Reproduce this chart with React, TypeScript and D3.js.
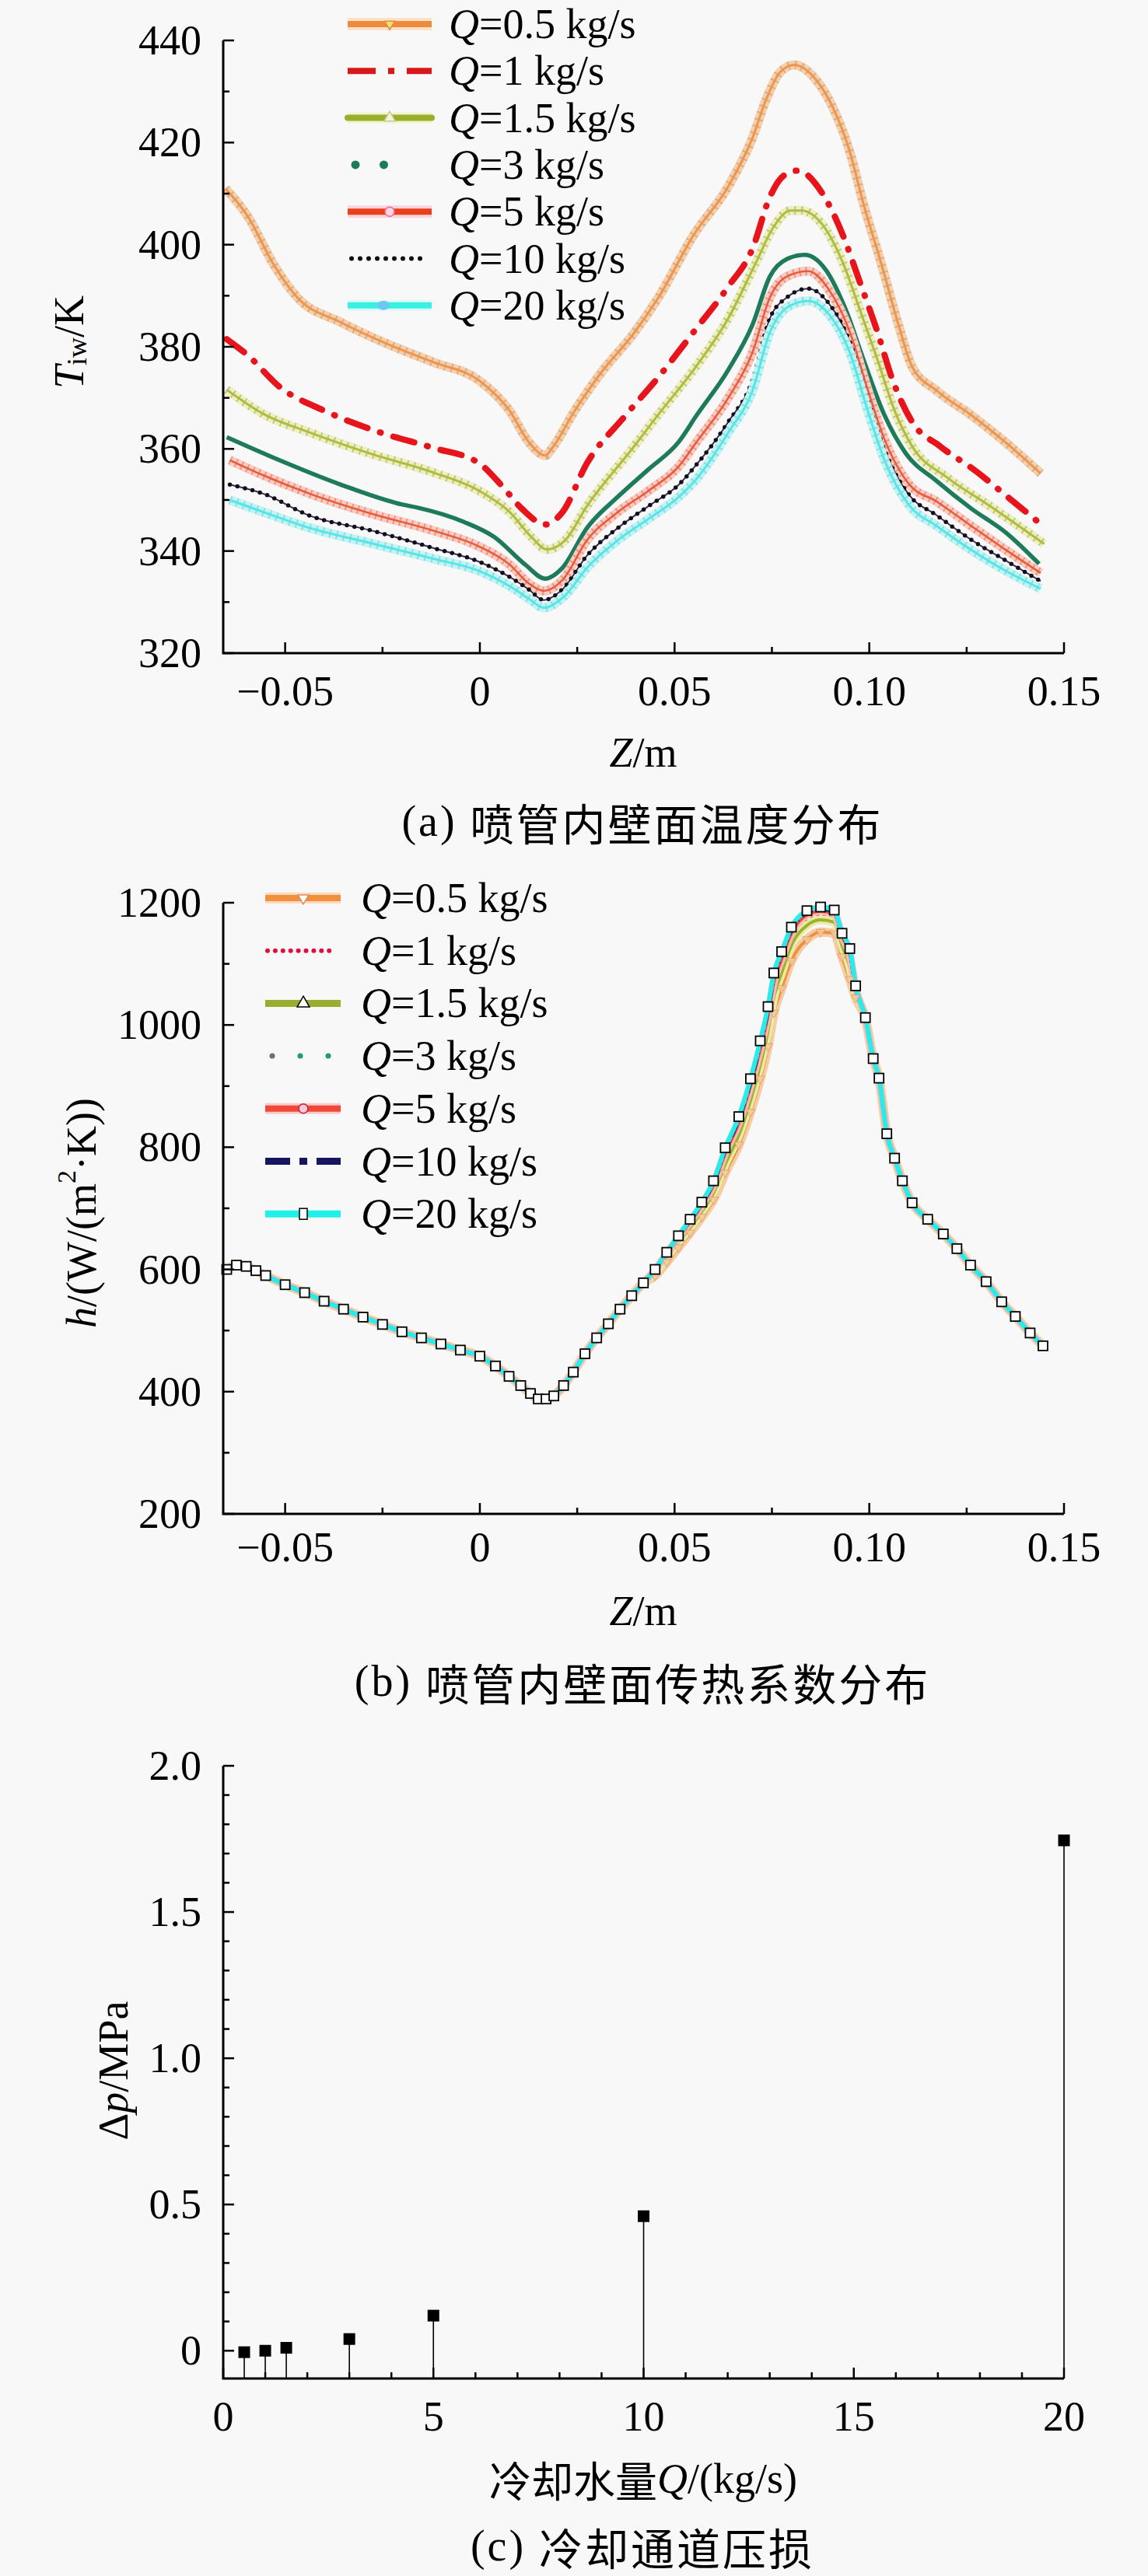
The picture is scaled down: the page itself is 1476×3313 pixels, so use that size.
import React from 'react';
import * as d3 from 'd3';

type Pt = [number, number];

const SERIF = '"Liberation Serif", "Times New Roman", serif';
const CJK = '"Noto Sans CJK SC", "Liberation Serif", serif';

// ---------- Panel (a): inner wall temperature T_iw (K) vs Z (m) ----------
const Q_LABELS = ['0.5', '1', '1.5', '3', '5', '10', '20'];

const TIW_Q05: Pt[] = [
  [-0.0653, 411.0], [-0.0594, 405.3], [-0.0531, 396.3], [-0.0468, 389.6], [-0.0357, 384.8],
  [-0.0239, 380.6], [-0.012, 377.0], [-0.0002, 373.4], [0.0077, 367.4], [0.0125, 361.4],
  [0.0168, 358.7], [0.0186, 360.2], [0.0243, 367.4], [0.0314, 375.2], [0.0393, 382.4],
  [0.0459, 389.7], [0.0549, 401.9], [0.0638, 411.4], [0.07, 420.9], [0.0735, 428.4],
  [0.0771, 433.8], [0.0807, 435.2], [0.0861, 432.5], [0.0905, 427.1], [0.095, 418.2],
  [0.0985, 408.0], [0.103, 396.5], [0.1075, 384.3], [0.111, 376.1], [0.1173, 371.4],
  [0.1262, 366.6], [0.1351, 361.2], [0.144, 355.2],
];
const TIW_Q1: Pt[] = [
  [-0.065, 381.5], [-0.0594, 378.2], [-0.0515, 372.2], [-0.0397, 367.4], [-0.0255, 363.2],
  [-0.012, 360.2], [-0.0002, 357.2], [0.0054, 353.0], [0.0109, 348.2], [0.0168, 345.2],
  [0.0212, 347.6], [0.0275, 357.2], [0.037, 366.2], [0.0459, 374.1], [0.0549, 382.9],
  [0.0638, 391.8], [0.07, 399.2], [0.0745, 409.4], [0.078, 413.5], [0.0816, 414.5],
  [0.0879, 410.1], [0.0932, 401.9], [0.0977, 392.4], [0.1021, 382.9], [0.1057, 374.1],
  [0.111, 365.3], [0.1182, 360.5], [0.1271, 355.8], [0.136, 350.3], [0.1448, 344.8],
];
const TIW_Q15: Pt[] = [
  [-0.065, 371.6], [-0.0555, 366.8], [-0.0436, 363.2], [-0.0278, 359.0], [-0.012, 355.4],
  [-0.0002, 351.8], [0.0077, 347.6], [0.0133, 342.7], [0.0172, 340.3], [0.0219, 342.1],
  [0.0275, 348.8], [0.0393, 360.2], [0.0459, 366.8], [0.0549, 375.5], [0.0638, 385.6],
  [0.0709, 396.5], [0.0753, 403.3], [0.0798, 406.7], [0.0825, 406.7], [0.0879, 404.0],
  [0.0932, 396.5], [0.0977, 387.0], [0.1021, 377.5], [0.1066, 367.3], [0.111, 360.5],
  [0.12, 354.4], [0.1306, 349.0], [0.1449, 341.4],
];
const TIW_Q3: Pt[] = [
  [-0.065, 362.3], [-0.0515, 357.8], [-0.0357, 353.0], [-0.0199, 349.1], [-0.016, 348.5],
  [-0.0041, 345.7], [0.0038, 342.7], [0.0117, 337.3], [0.0168, 334.6], [0.0212, 336.7],
  [0.0275, 344.5], [0.0354, 350.6], [0.0433, 356.0], [0.0511, 361.4], [0.0555, 366.4],
  [0.0638, 375.5], [0.07, 384.3], [0.0745, 393.8], [0.0789, 397.2], [0.0834, 398.0],
  [0.0888, 395.1], [0.0941, 387.0], [0.0985, 377.5], [0.1039, 366.6], [0.1093, 359.2],
  [0.1173, 353.7], [0.1262, 348.3], [0.1351, 343.6], [0.1436, 337.5],
];
const TIW_Q5: Pt[] = [
  [-0.0642, 357.8], [-0.0555, 354.8], [-0.0436, 351.2], [-0.0278, 347.3], [-0.012, 344.0],
  [-0.0002, 340.9], [0.0077, 337.3], [0.0125, 333.7], [0.0164, 332.2], [0.0212, 334.3],
  [0.0275, 342.1], [0.0354, 347.6], [0.0433, 351.8], [0.0511, 356.6], [0.0555, 361.2],
  [0.0638, 370.0], [0.07, 378.9], [0.0745, 389.7], [0.0789, 393.8], [0.0843, 394.8],
  [0.0897, 391.1], [0.095, 382.9], [0.0994, 372.1], [0.1039, 361.9], [0.1102, 353.1],
  [0.1173, 349.7], [0.1262, 344.9], [0.1351, 340.2], [0.144, 335.7],
];
const TIW_Q10: Pt[] = [
  [-0.0642, 353.0], [-0.0555, 351.2], [-0.0436, 346.9], [-0.0278, 344.0], [-0.012, 340.6],
  [-0.0002, 337.9], [0.0077, 334.9], [0.0125, 332.5], [0.0164, 330.4], [0.0212, 332.5],
  [0.0275, 339.1], [0.0354, 344.5], [0.0433, 348.8], [0.0511, 353.0], [0.0555, 356.8],
  [0.0638, 365.3], [0.07, 373.4], [0.0745, 385.6], [0.0789, 389.7], [0.0843, 391.4],
  [0.0897, 388.4], [0.095, 380.9], [0.0994, 370.0], [0.1039, 359.8], [0.1102, 351.0],
  [0.1173, 347.0], [0.1262, 342.2], [0.1351, 338.1], [0.144, 334.1],
];
const TIW_Q20: Pt[] = [
  [-0.0642, 350.0], [-0.0555, 347.6], [-0.0436, 344.5], [-0.0278, 341.5], [-0.012, 338.5],
  [-0.0002, 336.1], [0.0077, 333.1], [0.0125, 330.7], [0.0164, 328.9], [0.0219, 331.3],
  [0.0275, 336.7], [0.0354, 342.1], [0.0433, 346.3], [0.0511, 350.6], [0.0555, 354.0],
  [0.0638, 363.2], [0.07, 371.4], [0.0745, 382.9], [0.0789, 387.7], [0.0843, 389.0],
  [0.0897, 386.3], [0.095, 378.9], [0.0994, 368.0], [0.1039, 357.8], [0.1102, 349.0],
  [0.1173, 344.9], [0.1262, 340.2], [0.1351, 336.1], [0.144, 332.6],
];

const A_X_TICKS = [-0.05, 0, 0.05, 0.1, 0.15];
const A_X_LABELS = ['\u22120.05', '0', '0.05', '0.10', '0.15'];
const A_X_MINOR = [-0.025, 0.025, 0.075, 0.125];
const A_Y_TICKS = [320, 340, 360, 380, 400, 420, 440];
const A_Y_MINOR = [330, 350, 370, 390, 410, 430];

// ---------- Panel (b): heat transfer coefficient h vs Z ----------
const Z_B = [
  -0.065, -0.0625, -0.06, -0.0575, -0.055, -0.05, -0.045, -0.04, -0.035, -0.03,
  -0.025, -0.02, -0.015, -0.01, -0.005, 0, 0.004, 0.0075, 0.0105, 0.013,
  0.015, 0.017, 0.019, 0.0215, 0.024, 0.027, 0.03, 0.033, 0.036, 0.039,
  0.042, 0.045, 0.048, 0.051, 0.054, 0.057, 0.06, 0.063, 0.0665, 0.0695,
  0.072, 0.074, 0.0755, 0.0775, 0.08, 0.084, 0.0875, 0.091, 0.093, 0.095,
  0.0965, 0.099, 0.101, 0.1025, 0.1045, 0.1065, 0.1085, 0.111, 0.115, 0.119,
  0.1225, 0.126, 0.13, 0.134, 0.1375, 0.1413, 0.1446,
];
const H_Q05 = [
  600, 607, 605, 598, 590, 575, 562, 548, 535, 522,
  510, 498, 488, 478, 468, 458, 442, 425, 410, 397,
  388, 388, 393, 410, 432, 462, 488, 511, 535, 557,
  578, 590, 612, 636, 660, 686, 714, 758, 804, 858,
  912, 965, 1020, 1060, 1105, 1140, 1152, 1150, 1112, 1075,
  1045, 1010, 945, 913, 822, 782, 745, 709, 682, 658,
  634, 607, 580, 547, 523, 496, 475,
];
const H_Q1 = [
  600, 607, 605, 598, 590, 575, 562, 548, 535, 522,
  510, 498, 488, 478, 468, 458, 442, 425, 410, 397,
  388, 388, 393, 410, 432, 462, 488, 511, 535, 557,
  578, 597, 622, 648, 672, 699, 730, 778, 826, 884,
  944, 1000, 1054, 1094, 1138, 1170, 1178, 1174, 1136, 1104,
  1056, 1012, 945, 913, 822, 782, 745, 709, 682, 658,
  634, 607, 580, 547, 523, 496, 475,
];
const H_Q15 = [
  600, 607, 605, 598, 590, 575, 562, 548, 535, 522,
  510, 498, 488, 478, 468, 458, 442, 425, 410, 397,
  388, 388, 393, 410, 432, 462, 488, 511, 535, 557,
  578, 595, 620, 645, 668, 695, 725, 772, 820, 876,
  934, 990, 1045, 1085, 1130, 1163, 1172, 1168, 1130, 1095,
  1052, 1012, 945, 913, 822, 782, 745, 709, 682, 658,
  634, 607, 580, 547, 523, 496, 475,
];
const H_Q3 = [
  600, 607, 605, 598, 590, 575, 562, 548, 535, 522,
  510, 498, 488, 478, 468, 458, 442, 425, 410, 397,
  388, 388, 393, 410, 432, 462, 488, 511, 535, 557,
  578, 598, 624, 650, 675, 702, 734, 784, 833, 892,
  952, 1008, 1062, 1100, 1144, 1175, 1182, 1178, 1140, 1110,
  1058, 1012, 945, 913, 822, 782, 745, 709, 682, 658,
  634, 607, 580, 547, 523, 496, 475,
];
const H_Q5 = [
  600, 607, 605, 598, 590, 575, 562, 548, 535, 522,
  510, 498, 488, 478, 468, 458, 442, 425, 410, 397,
  388, 388, 393, 410, 432, 462, 488, 511, 535, 557,
  578, 599, 626, 652, 678, 705, 738, 790, 840, 900,
  960, 1016, 1070, 1108, 1150, 1180, 1186, 1182, 1145, 1115,
  1060, 1012, 945, 913, 822, 782, 745, 709, 682, 658,
  634, 607, 580, 547, 523, 496, 475,
];
const H_Q10 = [
  600, 607, 605, 598, 590, 575, 562, 548, 535, 522,
  510, 498, 488, 478, 468, 458, 442, 425, 410, 397,
  388, 388, 393, 410, 432, 462, 488, 511, 535, 557,
  578, 600, 627, 654, 680, 708, 742, 795, 846, 906,
  968, 1024, 1078, 1115, 1156, 1184, 1190, 1185, 1148, 1120,
  1062, 1012, 945, 913, 822, 782, 745, 709, 682, 658,
  634, 607, 580, 547, 523, 496, 475,
];
const H_Q20 = [
  600, 607, 605, 598, 590, 575, 562, 548, 535, 522,
  510, 498, 488, 478, 468, 458, 442, 425, 410, 397,
  388, 388, 393, 410, 432, 462, 488, 511, 535, 557,
  578, 600, 628, 655, 682, 710, 745, 799, 850, 912,
  974, 1030, 1085, 1120, 1160, 1187, 1193, 1188, 1150, 1125,
  1064, 1012, 945, 913, 822, 782, 745, 709, 682, 658,
  634, 607, 580, 547, 523, 496, 475,
];
const B_Y_TICKS = [200, 400, 600, 800, 1000, 1200];
const B_Y_MINOR = [300, 500, 700, 900, 1100];

// ---------- Panel (c): pressure loss vs coolant flow ----------
const C_Q = [0.5, 1, 1.5, 3, 5, 10, 20];
const C_DP = [-0.005, 0.0, 0.01, 0.04, 0.12, 0.46, 1.745];
const C_X_TICKS = [0, 5, 10, 15, 20];
const C_Y_TICKS = [0, 0.5, 1.0, 1.5, 2.0];
const C_Y_LABELS = ['0', '0.5', '1.0', '1.5', '2.0'];

// ---------- scales ----------
const xA = d3.scaleLinear().domain([-0.0659, 0.15]).range([287, 1368]);
const yA = d3.scaleLinear().domain([320, 440]).range([840, 52]);
const xB = d3.scaleLinear().domain([-0.0659, 0.15]).range([287, 1368]);
const yB = d3.scaleLinear().domain([200, 1200]).range([1947, 1161]);
const xC = d3.scaleLinear().domain([0, 20]).range([287, 1368]);
const yC = d3.scaleLinear().domain([-0.095, 2.0]).range([3059, 2271]);

type Layer = { stroke: string; w: number; dash?: string; cap?: string; op?: number };

const A_STYLES: Layer[][] = [
  [{ stroke: '#f8cfa8', w: 12 }, { stroke: '#a8a29a', w: 11, dash: '2 7', op: 0.65 }, { stroke: '#f0954c', w: 3 }],
  [{ stroke: '#e8141c', w: 8, dash: '28 17 1 17', cap: 'round' }],
  [{ stroke: '#eef0bc', w: 12 }, { stroke: '#a6a690', w: 11, dash: '2 7', op: 0.65 }, { stroke: '#b0bd3c', w: 3 }],
  [{ stroke: '#1e7b5a', w: 5.5 }],
  [{ stroke: '#f9cdc4', w: 12 }, { stroke: '#d8684c', w: 11, dash: '2 6', op: 0.55 }, { stroke: '#e85a3a', w: 2.5 }],
  [{ stroke: '#3a2a70', w: 2 }, { stroke: '#111111', w: 5.5, dash: '0 10', cap: 'round' }],
  [{ stroke: '#bff5f5', w: 12 }, { stroke: '#8cb8c4', w: 11, dash: '2 7', op: 0.55 }, { stroke: '#55e6e6', w: 3 }],
];

const B_STYLES: Layer[][] = [
  [{ stroke: '#f7cba4', w: 12 }, { stroke: '#ef9040', w: 4 }],
  [{ stroke: '#e0103c', w: 4, dash: '0 8', cap: 'round' }],
  [{ stroke: '#e8eca4', w: 11 }, { stroke: '#a0b030', w: 4 }],
  [{ stroke: '#2a9a7a', w: 4, dash: '0 9', cap: 'round' }],
  [{ stroke: '#f8bcb4', w: 10 }, { stroke: '#f04838', w: 4 }],
  [{ stroke: '#151560', w: 5, dash: '16 6 2 6' }],
  [{ stroke: '#28ecec', w: 6 }],
];

const lineA = d3.line<Pt>().x(d => xA(d[0])).y(d => yA(d[1])).curve(d3.curveMonotoneX);
const lineB = d3.line<Pt>().x(d => xB(d[0])).y(d => yB(d[1])).curve(d3.curveMonotoneX);

const A_DATA = [TIW_Q05, TIW_Q1, TIW_Q15, TIW_Q3, TIW_Q5, TIW_Q10, TIW_Q20];
const B_DATA: Pt[][] = [H_Q05, H_Q1, H_Q15, H_Q3, H_Q5, H_Q10, H_Q20].map(hs =>
  hs.slice(0, Z_B.length).map((h, i) => [Z_B[i], h] as Pt)
);

function Layers({ d, layers }: { d: string; layers: Layer[] }) {
  return (
    <g>
      {layers.map((l, i) => (
        <path key={i} d={d} fill="none" stroke={l.stroke} strokeWidth={l.w}
          strokeDasharray={l.dash} strokeLinecap={(l.cap as any) || 'butt'} strokeLinejoin="round"
          opacity={l.op ?? 1} />
      ))}
    </g>
  );
}

function Axes(props: {
  x: d3.ScaleLinear<number, number>; y: d3.ScaleLinear<number, number>;
  xTicks: number[]; xLabels: string[]; xMinor: number[];
  yTicks: number[]; yLabels: string[]; yMinor: number[]; xLabelY: number;
}) {
  const { x, y, xTicks, xLabels, xMinor, yTicks, yLabels, yMinor, xLabelY } = props;
  const [x0, x1] = x.range();
  const [yb, yt] = y.range();
  const tickStyle = { stroke: '#000', strokeWidth: 2.5 };
  return (
    <g>
      {yMinor.map(v => <line key={'ym' + v} x1={x0} x2={x0 + 8} y1={y(v)} y2={y(v)} {...tickStyle} />)}
      {yTicks.map(v => <line key={'yt' + v} x1={x0} x2={x0 + 14} y1={y(v)} y2={y(v)} {...tickStyle} />)}
      {xMinor.map(v => <line key={'xm' + v} x1={x(v)} x2={x(v)} y1={yb} y2={yb - 8} {...tickStyle} />)}
      {xTicks.map(v => <line key={'xt' + v} x1={x(v)} x2={x(v)} y1={yb} y2={yb - 14} {...tickStyle} />)}
      <path d={`M${x0},${yt}V${yb}H${x1}`} fill="none" stroke="#000" strokeWidth={3} />
      {yTicks.map((v, i) => (
        <text key={'yl' + v} x={259} y={y(v)} textAnchor="end" dominantBaseline="central"
          fontFamily={SERIF} fontSize={54}>{yLabels[i]}</text>
      ))}
      {xTicks.map((v, i) => (
        <text key={'xl' + v} x={x(v)} y={xLabelY} textAnchor="middle" dominantBaseline="central"
          fontFamily={SERIF} fontSize={54}>{xLabels[i]}</text>
      ))}
    </g>
  );
}

function LegendLabel({ x, y, q }: { x: number; y: number; q: string }) {
  return (
    <text x={x} y={y} dominantBaseline="central" fontFamily={SERIF} fontSize={54}>
      <tspan fontStyle="italic">Q</tspan>={q} kg/s
    </text>
  );
}

function LegendA() {
  const x0 = 447, x1 = 555, xm = 501, tx = 577;
  const rows = Q_LABELS.map((_, i) => 31 + i * 60.3);
  const seg = (y: number) => `M${x0},${y}H${x1}`;
  return (
    <g>
      <path d={seg(rows[0])} stroke="#fde0c6" strokeWidth={16} />
      <path d={seg(rows[0])} stroke="#ee8a3c" strokeWidth={8} />
      <path d={d3.symbol().type(d3.symbolTriangle).size(70)() as string}
        transform={`translate(${xm},${rows[0]}) rotate(180)`} fill="#f2e070" stroke="#e08a40" strokeWidth={1.5} />
      <path d={seg(rows[1])} stroke="#d81818" strokeWidth={8} strokeDasharray="36 16 8 16" />
      <path d={seg(rows[2])} stroke="#f1f4c8" strokeWidth={14} />
      <path d={seg(rows[2])} stroke="#9aad2c" strokeWidth={8} strokeLinecap="round" />
      <path d={d3.symbol().type(d3.symbolTriangle).size(90)() as string}
        transform={`translate(${xm},${rows[2]})`} fill="#f4f4d8" stroke="#c8c890" strokeWidth={1.5} />
      <path d={`M457,${rows[3]}H530`} stroke="#1a7a5a" strokeWidth={11} strokeDasharray="0 36.5" strokeLinecap="round" />
      <path d={seg(rows[4])} stroke="#fcd4dc" strokeWidth={16} />
      <path d={seg(rows[4])} stroke="#e8401c" strokeWidth={8} />
      <circle cx={xm} cy={rows[4]} r={6} fill="#fbd6e4" stroke="#f06a8a" strokeWidth={1.5} />
      <path d={`M452,${rows[5]}H551`} stroke="#111" strokeWidth={6} strokeDasharray="0 11" strokeLinecap="round" />
      <path d={seg(rows[6])} stroke="#dcfafa" strokeWidth={14} />
      <path d={seg(rows[6])} stroke="#38f0e0" strokeWidth={8} />
      <ellipse cx={xm - 8} cy={rows[6]} rx={8} ry={6} fill="#6cc8f0" />
      {Q_LABELS.map((q, i) => <LegendLabel key={q} x={tx} y={rows[i]} q={q} />)}
    </g>
  );
}

function LegendB() {
  const x0 = 341, x1 = 438, xm = 390, tx = 464;
  const rows = Q_LABELS.map((_, i) => 1155 + i * 67.7);
  const seg = (y: number) => `M${x0},${y}H${x1}`;
  return (
    <g>
      <path d={seg(rows[0])} stroke="#fbd9bd" strokeWidth={14} />
      <path d={seg(rows[0])} stroke="#f0903c" strokeWidth={8} />
      <path d={d3.symbol().type(d3.symbolTriangle).size(80)() as string}
        transform={`translate(${xm},${rows[0]}) rotate(180)`} fill="#ffffff" stroke="#d89060" strokeWidth={1.5} />
      <path d={`M344,${rows[1]}H433`} stroke="#e0103c" strokeWidth={6} strokeDasharray="0 9.9" strokeLinecap="round" />
      <path d={seg(rows[2])} stroke="#9aad2c" strokeWidth={9} />
      <path d={d3.symbol().type(d3.symbolTriangle).size(110)() as string}
        transform={`translate(${xm},${rows[2]})`} fill="#ffffff" stroke="#000" strokeWidth={1.5} />
      <circle cx={350} cy={rows[3]} r={3.5} fill="#707070" />
      <circle cx={386} cy={rows[3]} r={3.5} fill="#1a9a80" />
      <circle cx={422} cy={rows[3]} r={3.5} fill="#1a9a80" />
      <path d={seg(rows[4])} stroke="#fbc8cc" strokeWidth={14} />
      <path d={seg(rows[4])} stroke="#f04838" strokeWidth={8} />
      <circle cx={xm} cy={rows[4]} r={6} fill="#f8c8d8" stroke="#c02040" strokeWidth={1.5} />
      <path d={seg(rows[5])} stroke="#151560" strokeWidth={9} strokeDasharray="32 12 10 12" />
      <path d={seg(rows[6])} stroke="#20f0e8" strokeWidth={9} />
      <rect x={xm - 5} y={rows[6] - 7} width={10} height={14} fill="#fff" stroke="#000" strokeWidth={1.5} />
      {Q_LABELS.map((q, i) => <LegendLabel key={q} x={tx} y={rows[i]} q={q} />)}
    </g>
  );
}

export default function App() {
  const tri = d3.symbol().type(d3.symbolTriangle).size(60)() as string;
  return (
    <svg width={1476} height={3313} viewBox="0 0 1476 3313"
      style={{ position: 'absolute', left: 0, top: 0, background: '#f8f8f8', display: 'block' }}>
      <rect x={0} y={0} width={1476} height={3313} fill="#f8f8f8" />

      {/* ---------- Panel (a) ---------- */}
      <g>
        {A_DATA.map((pts, i) => <Layers key={i} d={lineA(pts) as string} layers={A_STYLES[i]} />)}
        <Axes x={xA} y={yA} xTicks={A_X_TICKS} xLabels={A_X_LABELS} xMinor={A_X_MINOR}
          yTicks={A_Y_TICKS} yLabels={A_Y_TICKS.map(String)} yMinor={A_Y_MINOR} xLabelY={889} />
        <LegendA />
        <text transform="translate(89,440) rotate(-90)" textAnchor="middle" dominantBaseline="central"
          fontFamily={SERIF} fontSize={54}>
          <tspan fontStyle="italic">T</tspan><tspan fontSize={36} dy={10}>iw</tspan><tspan dy={-10}>/K</tspan>
        </text>
        <text x={827} y={968} textAnchor="middle" dominantBaseline="central" fontFamily={SERIF} fontSize={54}>
          <tspan fontStyle="italic">Z</tspan>/m
        </text>
        <text x={826} y={1056} textAnchor="middle" dominantBaseline="central" fontFamily={CJK} fontSize={56} letterSpacing={3}>
          <tspan fontFamily={SERIF}>(a) </tspan>喷管内壁面温度分布
        </text>
      </g>

      {/* ---------- Panel (b) ---------- */}
      <g>
        {B_DATA.map((pts, i) => <Layers key={i} d={lineB(pts) as string} layers={B_STYLES[i]} />)}
        {B_DATA[0].map((p, i) => (
          <path key={'t' + i} d={tri} transform={`translate(${xB(p[0])},${yB(p[1])}) rotate(180)`}
            fill="#f9c89a" stroke="#d8a070" strokeWidth={1} opacity={0.85} />
        ))}
        {B_DATA[6].map((p, i) => (
          <rect key={'s' + i} x={xB(p[0]) - 6} y={yB(p[1]) - 6} width={12} height={12}
            fill="#ffffff" stroke="#000" strokeWidth={1.8} />
        ))}
        <Axes x={xB} y={yB} xTicks={A_X_TICKS} xLabels={A_X_LABELS} xMinor={A_X_MINOR}
          yTicks={B_Y_TICKS} yLabels={B_Y_TICKS.map(String)} yMinor={B_Y_MINOR} xLabelY={1990} />
        <LegendB />
        <text transform="translate(105,1560) rotate(-90)" textAnchor="middle" dominantBaseline="central"
          fontFamily={SERIF} fontSize={54}>
          <tspan fontStyle="italic">h</tspan>/(W/(m<tspan fontSize={34} dy={-20}>2</tspan><tspan dy={20}>·K))</tspan>
        </text>
        <text x={827} y={2072} textAnchor="middle" dominantBaseline="central" fontFamily={SERIF} fontSize={54}>
          <tspan fontStyle="italic">Z</tspan>/m
        </text>
        <text x={826} y={2162} textAnchor="middle" dominantBaseline="central" fontFamily={CJK} fontSize={56} letterSpacing={3}>
          <tspan fontFamily={SERIF}>(b) </tspan>喷管内壁面传热系数分布
        </text>
      </g>

      {/* ---------- Panel (c) ---------- */}
      <g>
        {C_Q.map((q, i) => (
          <g key={q}>
            <line x1={xC(q)} x2={xC(q)} y1={yC(C_DP[i])} y2={yC(-0.095)} stroke="#000" strokeWidth={1.6} />
            <rect x={xC(q) - 7.5} y={yC(C_DP[i]) - 7.5} width={15} height={15} fill="#000" />
          </g>
        ))}
        <Axes x={xC} y={yC} xTicks={C_X_TICKS} xLabels={C_X_TICKS.map(String)}
          xMinor={d3.range(1, 20).filter(v => v % 5 !== 0)}
          yTicks={C_Y_TICKS} yLabels={C_Y_LABELS}
          yMinor={d3.range(1, 20).filter(v => v % 5 !== 0).map(v => v / 10)} xLabelY={3108} />
        <text transform="translate(146,2663) rotate(-90)" textAnchor="middle" dominantBaseline="central"
          fontFamily={SERIF} fontSize={54}>
          Δ<tspan fontStyle="italic">p</tspan>/MPa
        </text>
        <text x={827} y={3188} textAnchor="middle" dominantBaseline="central" fontFamily={CJK} fontSize={54}>
          冷却水量<tspan fontFamily={SERIF} fontStyle="italic">Q</tspan><tspan fontFamily={SERIF}>/(kg/s)</tspan>
        </text>
        <text x={826} y={3274} textAnchor="middle" dominantBaseline="central" fontFamily={CJK} fontSize={56} letterSpacing={3}>
          <tspan fontFamily={SERIF}>(c) </tspan>冷却通道压损
        </text>
      </g>
    </svg>
  );
}
